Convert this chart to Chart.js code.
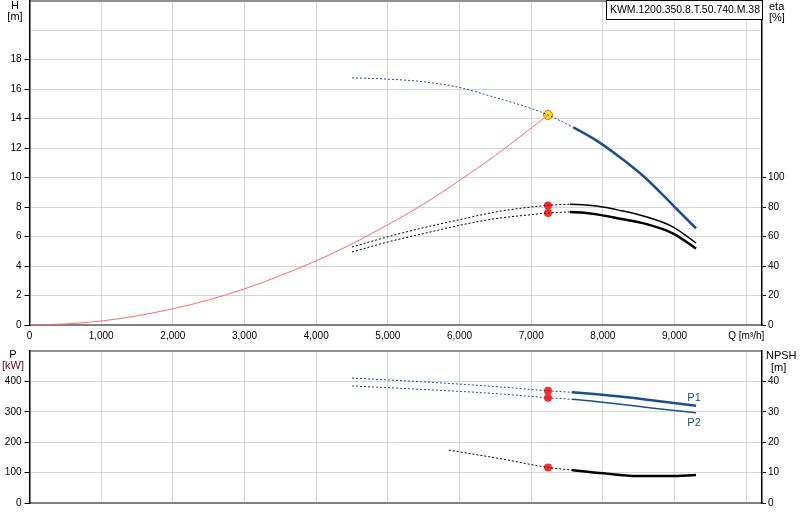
<!DOCTYPE html>
<html>
<head>
<meta charset="utf-8">
<script src="https://cdn.jsdelivr.net/npm/chart.js@4.4.1/dist/chart.umd.min.js"></script>
<style>
  body { margin: 0; background: #fff; }
  #wrap { position: relative; width: 800px; height: 520px; overflow: hidden; }
  canvas { position: absolute; left: 0; }
</style>
</head>
<body>
<div id="wrap">
  <canvas id="topChart" width="800" height="350" style="top:-5px"></canvas>
  <canvas id="botChart" width="800" height="175" style="top:345px"></canvas>
</div>
<script>
// pump curve data
const pumpName = "KWM.1200.350.8.T.50.740.M.38";
const dutyQ = 7234;

const headQ = [4500, 5000, 5500, 6000, 6500, 7000, 7234, 7587, 7913, 8238, 8587, 8982, 9300];
const headH = [16.76, 16.67, 16.49, 16.1, 15.42, 14.68, 14.24, 13.4, 12.5, 11.37, 10.0, 8.1, 6.55];

const sysQ = [0, 500, 1000, 1500, 2000, 2500, 3000, 3500, 4000, 4500, 5000, 5500, 6000, 6500, 7000, 7234];
const sysH = [0, 0.07, 0.27, 0.62, 1.1, 1.7, 2.45, 3.35, 4.35, 5.5, 6.8, 8.2, 9.8, 11.5, 13.35, 14.24];

const etaQ = [4500, 5000, 5500, 6000, 6500, 7000, 7234, 7541, 7913, 8238, 8587, 8982, 9300];
const eta1 = [52.9, 59.8, 66, 71.4, 76.6, 80, 81.1, 81.8, 80.6, 77.7, 73.6, 66.4, 55.6];
const eta2 = [49.5, 56.3, 62, 67.6, 72.1, 74.8, 75.9, 76.6, 75, 72.1, 68.7, 62, 51.8];

const powQ = [4500, 5450, 6500, 7234, 7565, 8240, 8705, 9300];
const powP1 = [411, 399, 383, 369, 364, 350, 337, 320];
const powP2 = [385, 374, 360, 346, 341, 325, 312, 297];

const npshQ = [5850, 6611, 7234, 7565, 8006, 8472, 8936, 9300];
const npshVals = [17.4, 14.4, 11.7, 10.85, 9.76, 8.88, 8.88, 9.2];

const qTicks = [0, 1000, 2000, 3000, 4000, 5000, 6000, 7000, 8000, 9000, 10000];

function pts(xs, ys) {
  return xs.map((q, i) => ({ x: q, y: ys[i] }));
}
function at(xs, ys, q) {
  return [{ x: q, y: ys[xs.indexOf(q)] }];
}

Chart.defaults.font.family = "'Liberation Sans', Arial, sans-serif";
Chart.defaults.font.size = 10;
Chart.defaults.color = "#000";

const BLUE = "#1a4f8c";
const GRID = "#d6d6d6";
const solidFrom = 7500;

function dashSeg(thick) {
  return {
    borderDash: c => (c.p0.parsed.x < solidFrom ? [2, 2] : []),
    borderWidth: c => (c.p0.parsed.x < solidFrom ? 1 : thick)
  };
}

const textPlugin = {
  id: "texts",
  afterDraw(chart, args, opts) {
    const ctx = chart.ctx;
    ctx.save();
    (opts.items || []).forEach(t => {
      ctx.font = (t.size || 10) + "px 'Liberation Sans', Arial, sans-serif";
      ctx.fillStyle = t.color || "#000";
      ctx.textAlign = t.align || "center";
      ctx.textBaseline = "alphabetic";
      let x = t.x, y = t.y;
      if (t.fn) { const p = t.fn(chart); x = p[0]; y = p[1]; }
      if (t.box) {
        ctx.fillStyle = "#fff";
        ctx.fillRect(t.box[0], t.box[1], t.box[2], t.box[3]);
        ctx.strokeStyle = "#000";
        ctx.lineWidth = 1;
        ctx.strokeRect(t.box[0] + 0.5, t.box[1] + 0.5, t.box[2] - 1, t.box[3] - 1);
        ctx.fillStyle = t.color || "#000";
      }
      if (t.maxWidth) ctx.fillText(t.text, x, y, t.maxWidth);
      else ctx.fillText(t.text, x, y);
    });
    ctx.restore();
  }
};

function xScale(showLabels) {
  return {
    type: "linear",
    min: 0,
    max: 10220,
    afterBuildTicks: s => { s.ticks = qTicks.map(v => ({ value: v })); },
    afterFit: s => {
      s.height = showLabels ? 20 : 17;
      s.paddingLeft = 0; s.paddingRight = 0;
    },
    grid: { color: GRID, lineWidth: 1, drawTicks: false },
    border: { color: "#808080", width: 2 },
    ticks: {
      display: showLabels,
      padding: 5,
      maxRotation: 0,
      autoSkip: false,
      callback: v => (v === 10000 ? "Q [m\u00b3/h]" : v.toLocaleString("en-US"))
    }
  };
}

function leftScale(max, step, lastLabel) {
  return {
    type: "linear",
    position: "left",
    min: 0,
    max: max,
    afterFit: s => {
      s.width = 29.5;
      s.paddingTop = 0; s.paddingBottom = 0;
    },
    grid: {
      color: c => (c.tick && c.tick.value === max ? "#909090" : GRID),
      lineWidth: c => (c.tick && c.tick.value === max ? 2 : 1),
      tickLength: 5,
      tickColor: c => (c.tick && c.tick.value <= lastLabel ? "#000" : "rgba(0,0,0,0)")
    },
    border: { color: "#000", width: 1.5 },
    ticks: {
      stepSize: step,
      padding: 3,
      callback: v => (v <= lastLabel ? v : "")
    }
  };
}

function rightScale(max, step, lastLabel) {
  return {
    type: "linear",
    position: "right",
    min: 0,
    max: max,
    afterFit: s => {
      s.width = 38;
      s.paddingTop = 0; s.paddingBottom = 0;
    },
    grid: {
      drawOnChartArea: false,
      tickLength: 4,
      tickColor: c => (c.tick && c.tick.value <= lastLabel ? "#000" : "rgba(0,0,0,0)")
    },
    border: { color: "#000", width: 1.5 },
    ticks: {
      stepSize: step,
      padding: 2,
      callback: v => (v <= lastLabel ? v : "")
    }
  };
}

function line(xs, ys, color, width, axis, dashed) {
  const ds = {
    data: pts(xs, ys), showLine: true, borderColor: color, borderWidth: width,
    pointRadius: 0, cubicInterpolationMode: "monotone", yAxisID: axis
  };
  if (dashed) ds.segment = dashSeg(width);
  return ds;
}

function dots(data, axis) {
  return {
    data: data, showLine: false, pointRadius: 4,
    pointBackgroundColor: "#ff2a2a", pointBorderWidth: 0, yAxisID: axis
  };
}

function createTop() {
  const ctx = document.getElementById("topChart").getContext("2d");
  new Chart(ctx, {
    type: "scatter",
    data: {
      datasets: [
        line(sysQ, sysH, "#ff6a6a", 1, "y", false),
        line(headQ, headH, BLUE, 2.5, "y", true),
        line(etaQ, eta1, "#000", 1.5, "y2", true),
        line(etaQ, eta2, "#000", 2.5, "y2", true),
        dots(at(etaQ, eta1, dutyQ).concat(at(etaQ, eta2, dutyQ)), "y2"),
        {
          data: at(headQ, headH, dutyQ), showLine: false, pointRadius: 4.5,
          pointBackgroundColor: "#ffe600", pointBorderColor: "#ff5a1e", pointBorderWidth: 1, yAxisID: "y"
        }
      ]
    },
    options: {
      responsive: false,
      animation: false,
      layout: { padding: 0 },
      plugins: {
        legend: { display: false },
        tooltip: { enabled: false },
        texts: {
          // canvas is shifted up by 5px, so y values here are +5
          items: [
            { text: "H", x: 15, y: 14, size: 11 },
            { text: "[m]", x: 15, y: 25, size: 11 },
            { text: "eta", x: 769, y: 15, size: 11, align: "left" },
            { text: "[%]", x: 769, y: 26, size: 11, align: "left" },
            { text: pumpName, x: 610, y: 18, size: 10.5, align: "left", maxWidth: 150, box: [606, 5, 157, 20] }
          ]
        }
      },
      scales: {
        x: xScale(true),
        y: leftScale(22, 2, 18),
        y2: rightScale(220, 20, 100)
      }
    },
    plugins: [textPlugin]
  });
}

function createBottom() {
  const ctx = document.getElementById("botChart").getContext("2d");
  new Chart(ctx, {
    type: "scatter",
    data: {
      datasets: [
        line(powQ, powP1, BLUE, 2.5, "y", true),
        line(powQ, powP2, BLUE, 1.5, "y", true),
        line(npshQ, npshVals, "#000", 2.5, "y2", true),
        dots(at(powQ, powP1, dutyQ).concat(at(powQ, powP2, dutyQ)), "y"),
        dots(at(npshQ, npshVals, dutyQ), "y2")
      ]
    },
    options: {
      responsive: false,
      animation: false,
      layout: { padding: { top: 6 } },
      plugins: {
        legend: { display: false },
        tooltip: { enabled: false },
        texts: {
          items: [
            { text: "P", x: 13, y: 13, size: 11 },
            { text: "[kW]", x: 13, y: 24, size: 11, color: "#4a1010" },
            { text: "NPSH", x: 766, y: 14, size: 11, align: "left" },
            { text: "[m]", x: 771, y: 26, size: 11, align: "left" },
            {
              text: "P1", size: 11, color: BLUE,
              fn: c => [c.scales.x.getPixelForValue(9300) - 2, c.scales.y.getPixelForValue(powP1[powP1.length - 1]) - 5]
            },
            {
              text: "P2", size: 11, color: BLUE,
              fn: c => [c.scales.x.getPixelForValue(9300) - 2, c.scales.y.getPixelForValue(powP2[powP2.length - 1]) + 13]
            }
          ]
        }
      },
      scales: {
        x: xScale(false),
        y: leftScale(500, 100, 400),
        y2: rightScale(50, 10, 40)
      }
    },
    plugins: [textPlugin]
  });
}

createTop();
createBottom();
</script>
</body>
</html>
